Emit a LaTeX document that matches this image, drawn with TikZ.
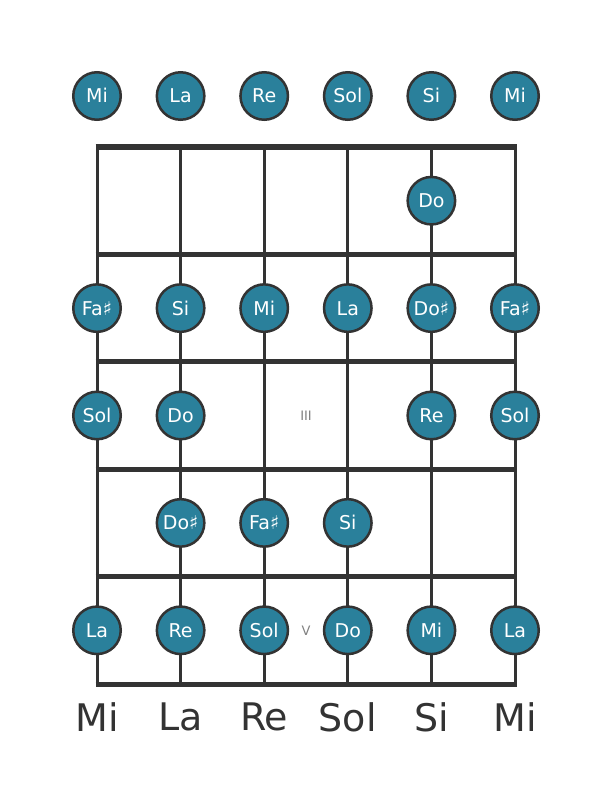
\documentclass[tikz,border=0pt]{standalone}
\usepackage{fontspec}
\setmainfont{DejaVu Sans}
\definecolor{noteteal}{RGB}{42,128,155}
\definecolor{griddark}{RGB}{51,51,51}
\tikzset{
  note/.style={circle, draw=griddark, line width=2.5pt, fill=noteteal, minimum size=47.5pt,
    inner sep=0pt, text=white, font=\fontsize{19}{19}\selectfont, text height=13.9pt, text depth=0pt},
  fretline/.style={griddark, line width=5pt},
  stringline/.style={griddark, line width=3pt},
  stringname/.style={text=griddark, font=\fontsize{38}{38}\selectfont},
  posmark/.style={text=gray, font=\fontsize{13}{13}\selectfont}
}
\begin{document}
\begin{tikzpicture}[x=1pt, y=-1pt]
         \useasboundingbox (0,0) rectangle (611,801);
         % strings
         \draw[stringline] (97,147) -- (97,684);
         \draw[stringline] (180.6,147) -- (180.6,684);
         \draw[stringline] (264.2,147) -- (264.2,684);
         \draw[stringline] (347.8,147) -- (347.8,684);
         \draw[stringline] (431.4,147) -- (431.4,684);
         \draw[stringline] (515,147) -- (515,684);
         % frets
         \draw[fretline, line width=6pt] (95.5,147) -- (516.5,147);
         \draw[fretline] (95.5,254.4) -- (516.5,254.4);
         \draw[fretline] (95.5,361.8) -- (516.5,361.8);
         \draw[fretline] (95.5,469.2) -- (516.5,469.2);
         \draw[fretline] (95.5,576.6) -- (516.5,576.6);
         \draw[fretline] (95.5,684) -- (516.5,684);
         % open strings
         \node[note] (o1) at (97,96) {Mi};
         \node[note] (o2) at (180.6,96) {La};
         \node[note] (o3) at (264.2,96) {Re};
         \node[note] (o4) at (347.8,96) {Sol};
         \node[note] (o5) at (431.4,96) {Si};
         \node[note] (o6) at (515,96) {Mi};
         % fret 1
         \node[note] (f1s5) at (431.4,200.7) {Do};
         % fret 2
         \node[note] (f2s1) at (97,308.1) {Fa♯};
         \node[note] (f2s2) at (180.6,308.1) {Si};
         \node[note] (f2s3) at (264.2,308.1) {Mi};
         \node[note] (f2s4) at (347.8,308.1) {La};
         \node[note] (f2s5) at (431.4,308.1) {Do♯};
         \node[note] (f2s6) at (515,308.1) {Fa♯};
         % fret 3
         \node[note] (f3s1) at (97,415.5) {Sol};
         \node[note] (f3s2) at (180.6,415.5) {Do};
         \node[posmark] (m3) at (306,415.5) {III};
         \node[note] (f3s5) at (431.4,415.5) {Re};
         \node[note] (f3s6) at (515,415.5) {Sol};
         % fret 4
         \node[note] (f4s2) at (180.6,522.9) {Do♯};
         \node[note] (f4s3) at (264.2,522.9) {Fa♯};
         \node[note] (f4s4) at (347.8,522.9) {Si};
         % fret 5
         \node[note] (f5s1) at (97,630.3) {La};
         \node[note] (f5s2) at (180.6,630.3) {Re};
         \node[note] (f5s3) at (264.2,630.3) {Sol};
         \node[posmark] (m5) at (306,630.3) {V};
         \node[note] (f5s4) at (347.8,630.3) {Do};
         \node[note] (f5s5) at (431.4,630.3) {Mi};
         \node[note] (f5s6) at (515,630.3) {La};
         % string names
         \node[stringname] (b1) at (97,717) {Mi};
         \node[stringname] (b2) at (180.6,717) {La};
         \node[stringname] (b3) at (264.2,717) {Re};
         \node[stringname] (b4) at (347.8,717) {Sol};
         \node[stringname] (b5) at (431.4,717) {Si};
         \node[stringname] (b6) at (515,717) {Mi};
         \end{tikzpicture}
\end{document}
